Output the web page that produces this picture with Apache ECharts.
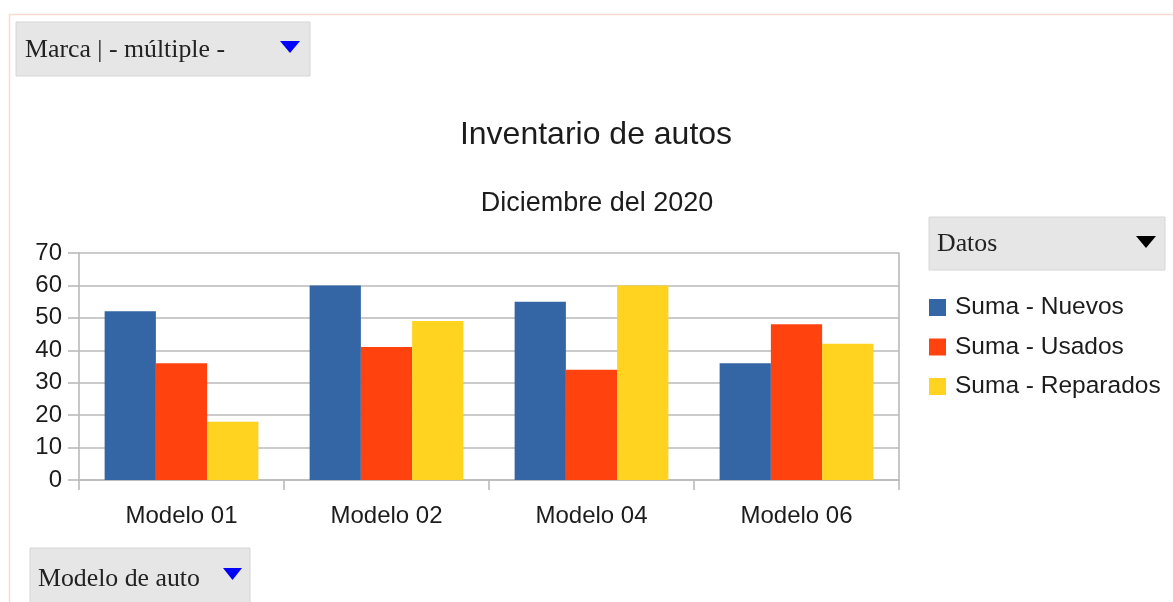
<!DOCTYPE html>
<html>
<head>
<meta charset="utf-8">
<title>Inventario de autos</title>
<script src="https://cdn.jsdelivr.net/npm/echarts@6/dist/echarts.min.js"></script>
<style>
  html, body { margin: 0; padding: 0; background: #ffffff; }
  #chart { width: 1173px; height: 602px; }
</style>
</head>
<body>
<div id="chart"></div>
<script>
// Car inventory, December 2020
const categories = ['Modelo 01', 'Modelo 02', 'Modelo 04', 'Modelo 06'];
const seriesNames = ['Suma - Nuevos', 'Suma - Usados', 'Suma - Reparados'];
const nuevos = [52, 60, 55, 36];
const usados = [36, 41, 34, 48];
const reparados = [18, 49, 60, 42];
const yTicks = { min: 0, max: 70, interval: 10 };

const colors = ['#3465a4', '#ff420e', '#ffd320'];
const sansFont = '"Liberation Sans", Arial, sans-serif';
const serifFont = '"Liberation Serif", "Times New Roman", serif';
const textColor = '#1c1c1c';
const gridColor = '#bababa';

// Pivot-table style field buttons (grey box, label, drop-down arrow)
function fieldButton(x, y, w, h, label, textX, arrowPts, arrowColor) {
  return {
    type: 'group',
    children: [
      { type: 'rect', shape: { x: x, y: y, width: w, height: h },
        style: { fill: '#e6e6e6', stroke: '#d6d6d6', lineWidth: 1 } },
      { type: 'text', x: textX, y: y + h / 2 + 1,
        style: { text: label, font: '25.8px ' + serifFont, fill: '#222222',
                 verticalAlign: 'middle', align: 'left' } },
      { type: 'polygon', shape: { points: arrowPts }, style: { fill: arrowColor } }
    ]
  };
}

const chart = echarts.init(document.getElementById('chart'), null, { renderer: 'canvas' });

const barSeries = [nuevos, usados, reparados].map((vals, i) => ({
  name: seriesNames[i],
  type: 'bar',
  data: vals,
  barGap: '0%',
  barCategoryGap: '25%',
  itemStyle: { color: colors[i] },
  emphasis: { disabled: true }
}));

chart.setOption({
  animation: false,
  textStyle: { fontFamily: sansFont },
  title: [
    { text: 'Inventario de autos', left: 596, top: 119, textAlign: 'center', padding: 0,
      textStyle: { fontFamily: sansFont, fontSize: 32, fontWeight: 'normal', color: textColor } },
    { text: 'Diciembre del 2020', left: 597, top: 190, textAlign: 'center', padding: 0,
      textStyle: { fontFamily: sansFont, fontSize: 27, fontWeight: 'normal', color: textColor } }
  ],
  legend: {
    orient: 'vertical',
    left: 929,
    top: 295,
    padding: 0,
    icon: 'rect',
    itemWidth: 17,
    itemHeight: 17,
    itemGap: 14.5,
    selectedMode: false,
    textStyle: { fontFamily: sansFont, fontSize: 24.5, color: textColor, lineHeight: 24,
                 padding: [0, 0, 0, 4] },
    data: seriesNames
  },
  grid: { left: 79, right: 274, top: 253, bottom: 122, containLabel: false },
  xAxis: {
    type: 'category',
    data: categories,
    axisLine: { show: true, lineStyle: { color: gridColor, width: 1.6 } },
    axisTick: { show: true, length: 10, lineStyle: { color: gridColor, width: 1.6 } },
    axisLabel: { fontFamily: sansFont, fontSize: 24, color: textColor, margin: 24 },
    splitLine: { show: false }
  },
  yAxis: [
    {
      type: 'value',
      min: yTicks.min,
      max: yTicks.max,
      interval: yTicks.interval,
      axisLine: { show: true, lineStyle: { color: gridColor, width: 1.6 } },
      axisTick: { show: true, length: 11, lineStyle: { color: gridColor, width: 1.6 } },
      axisLabel: { fontFamily: sansFont, fontSize: 24, color: textColor, margin: 17 },
      splitLine: { show: true, lineStyle: { color: gridColor, width: 1.6 } }
    },
    {
      // right-hand frame of the plot area
      type: 'value',
      position: 'right',
      min: yTicks.min,
      max: yTicks.max,
      interval: yTicks.interval,
      axisLine: { show: true, lineStyle: { color: gridColor, width: 1.6 } },
      axisTick: { show: false },
      axisLabel: { show: false },
      splitLine: { show: false }
    }
  ],
  series: barSeries,
  graphic: [
    // sheet frame
    { type: 'polyline', shape: { points: [[1173, 14.5], [9.5, 14.5], [9.5, 602]] },
      style: { stroke: '#f9dccb', lineWidth: 1.5, fill: null } },
    fieldButton(16, 22, 294, 54, 'Marca | - múltiple -', 25,
                [[280, 41], [300, 41], [290, 53]], '#0000ff'),
    fieldButton(929, 217, 236, 53, 'Datos', 937,
                [[1136, 236], [1156, 236], [1146, 248]], '#000000'),
    fieldButton(30, 548, 220, 60, 'Modelo de auto', 38,
                [[223, 568], [242, 568], [232.5, 580]], '#0000ff')
  ]
});
</script>
</body>
</html>
